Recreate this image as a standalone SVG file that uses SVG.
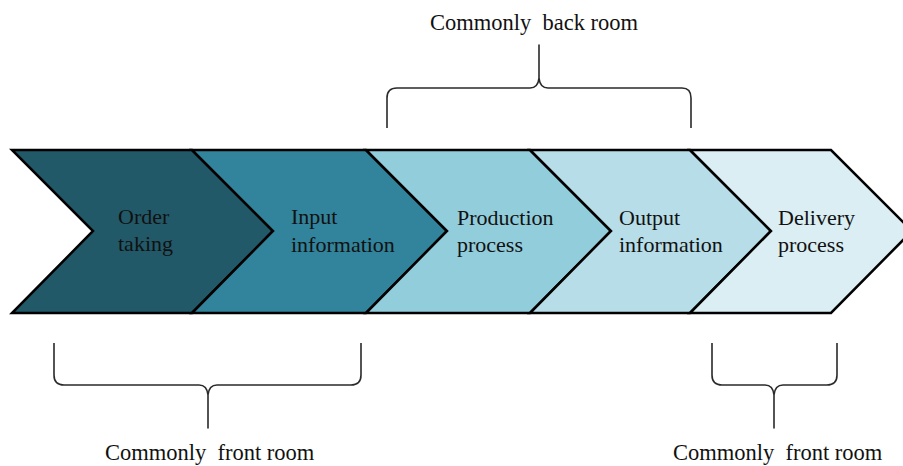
<svg xmlns="http://www.w3.org/2000/svg" width="903" height="466" viewBox="0 0 903 466">
<style>
.chev{stroke:#000;stroke-width:2.5;stroke-linejoin:miter}
.t{font-family:"Liberation Serif","Times New Roman",serif;font-size:22px;fill:#111}
.lbl{font-family:"Liberation Serif","Times New Roman",serif;font-size:22.5px;fill:#111;white-space:pre}
.brace{fill:none;stroke:#2a2a2a;stroke-width:1.6;stroke-linejoin:round}
</style>
<rect width="903" height="466" fill="#fff"/>
<g id="node-order">
<polygon class="chev" fill="#215968" points="12,150 192,150 273,231 192,313 12,313 93,231"/>
<text class="t" x="118" y="224">Order</text>
<text class="t" x="118" y="251">taking</text>
</g>
<g id="node-input">
<polygon class="chev" fill="#31849B" points="192,150 366,150 447,231 366,313 192,313 273,231"/>
<text class="t" x="291" y="224">Input</text>
<text class="t" x="291" y="252">information</text>
</g>
<g id="node-production">
<polygon class="chev" fill="#92CDDC" points="366,150 530,150 611,231 530,313 366,313 447,231"/>
<text class="t" x="457" y="225">Production</text>
<text class="t" x="457" y="252">process</text>
</g>
<g id="node-output">
<polygon class="chev" fill="#B7DDE8" points="530,150 690,150 771,231 690,313 530,313 611,231"/>
<text class="t" x="619" y="224.5">Output</text>
<text class="t" x="619" y="252">information</text>
</g>
<g id="node-delivery">
<polygon class="chev" fill="#DAEEF3" points="690,150 831,150 912,231 831,313 690,313 771,231"/>
<text class="t" x="778" y="225">Delivery</text>
<text class="t" x="778" y="252">process</text>
</g>
<g id="connectors">
<path class="brace" d="M387,128 L387,98 Q387,88 397,88 L530,88 Q538,88 539,78 L539,45 L539,78 Q540,88 548,88 L682,88 Q691,88 691,98 L691,128"/>
<path class="brace" d="M54,343 L54,375 Q54,385 64,385 L199,385 Q207,385 208,395 L208,428 L208,395 Q209,385 217,385 L351,385 Q361,385 361,375 L361,343"/>
<path class="brace" d="M712,343 L712,375 Q712,385 722,385 L765,385 Q773,385 774,395 L774,428 L774,395 Q775,385 783,385 L827,385 Q837,385 837,375 L837,343"/>
</g>
<g id="labels">
<text class="lbl" x="430" y="30">Commonly  back room</text>
<text class="lbl" x="105" y="460">Commonly  front room</text>
<text class="lbl" x="673" y="460">Commonly  front room</text>
</g>
</svg>
